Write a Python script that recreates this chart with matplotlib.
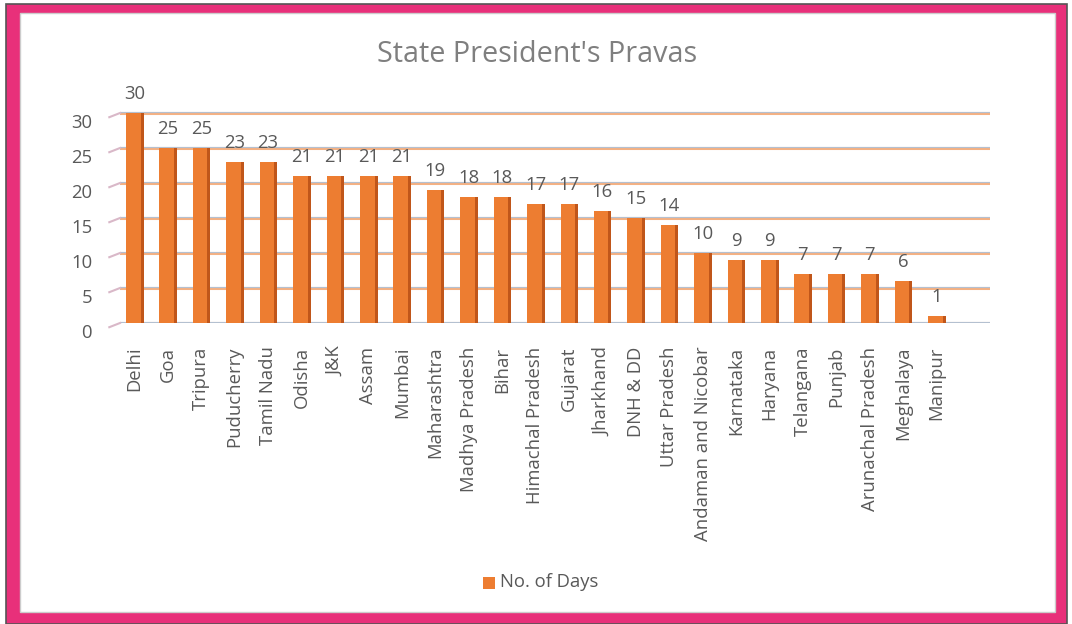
import matplotlib
matplotlib.use("Agg")
import matplotlib.pyplot as plt
from matplotlib.patches import Rectangle
import matplotlib.transforms as mtransforms
import numpy as np

states = ["Delhi", "Goa", "Tripura", "Puducherry", "Tamil Nadu", "Odisha", "J&K",
          "Assam", "Mumbai", "Maharashtra", "Madhya Pradesh", "Bihar",
          "Himachal Pradesh", "Gujarat", "Jharkhand", "DNH & DD", "Uttar Pradesh",
          "Andaman and Nicobar", "Karnataka", "Haryana", "Telangana", "Punjab",
          "Arunachal Pradesh", "Meghalaya", "Manipur"]
days = [30, 25, 25, 23, 23, 21, 21, 21, 21, 19, 18, 18, 17, 17, 16, 15, 14,
        10, 9, 9, 7, 7, 7, 6, 1]
yticks = [0, 5, 10, 15, 20, 25, 30]

plt.rcParams['font.family'] = ['Open Sans', 'DejaVu Sans']
TXT = '#595959'
FS = 13.3

fig = plt.figure(figsize=(10.72, 6.24), dpi=100)
fig.patch.set_facecolor('white')
W, H = 1072, 624
fig.patches.append(Rectangle((6 / W, 0), 1061 / W, 620 / H, transform=fig.transFigure,
                             facecolor='#E8307A', edgecolor='#555555', linewidth=1.2,
                             zorder=-2))
fig.patches.append(Rectangle((20 / W, 12 / H), 1035 / W, 599 / H, transform=fig.transFigure,
                             facecolor='white', edgecolor='#cccccc', linewidth=1.0,
                             zorder=-1))

ax = fig.add_axes([120 / W, (H - 323) / H, 870 / W, 217 / H])
ax.patch.set_alpha(0)
x = np.arange(len(states))
n = len(states)

# gridlines with a faux 3D look
for t in yticks:
    ax.axhline(t, color='#F4B183', linewidth=2.2, zorder=1)
    ax.axhline(t + 0.12, color='#B4C0D0', linewidth=0.8, zorder=1)
    ax.plot([-0.75, -0.43], [t - 0.6, t], color='#D9B8C8', linewidth=1.5,
            clip_on=False, zorder=1)

# bars: front face and darker side face
ax.bar(x - 0.03, days, width=0.44, color='#ED7D31', zorder=3)
ax.bar(x + 0.23, days, width=0.09, color='#C0561A', zorder=3)
for xi, d in zip(x, days):
    ax.annotate(str(d), (xi, d), xytext=(0, 7), textcoords='offset points',
                ha='center', va='bottom', fontsize=FS, color=TXT)

ax.set_xlim(-0.43, n - 1 + 1.6)
ax.set_ylim(0, 31)
ax.set_yticks(yticks)
ax.set_yticklabels([str(t) for t in yticks])
ax.set_xticks(x)
ax.set_xticklabels(states, rotation=90)
ax.tick_params(axis='y', length=0, pad=20, labelsize=FS, labelcolor=TXT)
ax.tick_params(axis='x', length=0, pad=17, labelsize=FS, labelcolor=TXT)
shift = mtransforms.ScaledTranslation(0, -8 / 100, fig.dpi_scale_trans)
for lab in ax.get_yticklabels():
    lab.set_transform(lab.get_transform() + shift)
for s in ax.spines.values():
    s.set_visible(False)

fig.text(537 / W, 1 - 55 / H, "State President's Pravas", ha='center', va='center',
         fontsize=20.7, color='#7F7F7F')

# legend
fig.patches.append(Rectangle((483 / W, (H - 589) / H), 12 / W, 12 / H,
                             transform=fig.transFigure, facecolor='#ED7D31',
                             edgecolor='none'))
fig.text(500 / W, 1 - 582 / H, "No. of Days", ha='left', va='center',
         fontsize=FS, color=TXT)

fig.savefig('out.png', dpi=100)
